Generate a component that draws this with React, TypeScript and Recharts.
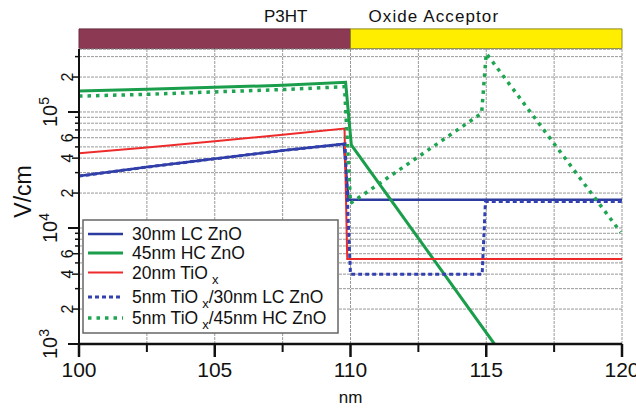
import React from "react";
import {
  LineChart,
  Line,
  XAxis,
  YAxis,
  CartesianGrid,
  ReferenceArea,
  ReferenceLine,
  Label,
} from "recharts";

// position (nm) and field (V/cm)
const lcZnOX = [100, 102.5, 105, 107.5, 109.75, 109.93, 120];
const lcZnOV = [28000, 33500, 39500, 46500, 53000, 17500, 17500];

const hcZnOX = [100, 102.5, 105, 107.5, 109.82, 110.03, 115.3];
const hcZnOV = [152000, 157000, 163000, 170000, 180000, 52000, 1000];

const tioxX = [100, 102.5, 105, 107.5, 109.78, 109.88, 120];
const tioxV = [44000, 49500, 56000, 63500, 72000, 5400, 5400];

const tioxLcX = [100, 102.5, 105, 107.5, 109.8, 110, 114.85, 114.97, 120];
const tioxLcV = [28000, 33500, 39500, 46500, 53000, 4000, 4000, 16900, 16900];

const tioxHcX = [100, 102.5, 105, 107.5, 109.78, 110, 114.83, 115, 119.95];
const tioxHcV = [137000, 142000, 149000, 156000, 165000, 16300, 97500, 320000, 9200];

const xTicks = [100, 102.5, 105, 107.5, 110, 112.5, 115, 117.5, 120];
const xLabeled = [100, 105, 110, 115, 120];
const yDecades = [1000, 10000, 100000];
const yMantissas = [1, 2, 3, 4, 5, 6, 7, 8, 9];
const yLabeledMantissas = [2, 4, 6];
const yTop = 349000;

const regionNames = ["P3HT", "Oxide Acceptor"];
const regionX = [100, 110, 120];

const yTicks = yDecades
  .flatMap((d) => yMantissas.map((m) => m * d))
  .filter((v) => v <= yTop);

const zip = (xs: number[], vs: number[]) => xs.map((x, i) => ({ x, v: vs[i] }));

const FONT = "'Liberation Sans', Arial, Helvetica, sans-serif";

const series = [
  { key: "lc", data: zip(lcZnOX, lcZnOV), color: "#2c3b9e", width: 2.5, dash: undefined, label: ["30nm LC ZnO"] },
  { key: "hc", data: zip(hcZnOX, hcZnOV), color: "#1a9e4b", width: 3, dash: undefined, label: ["45nm HC ZnO"] },
  { key: "tiox", data: zip(tioxX, tioxV), color: "#ee2b2b", width: 2, dash: undefined, label: ["20nm TiO", "x", ""] },
  { key: "tioxLc", data: zip(tioxLcX, tioxLcV), color: "#3340b0", width: 3, dash: "4 3", label: ["5nm TiO", "x", "/30nm LC ZnO"] },
  { key: "tioxHc", data: zip(tioxHcX, tioxHcV), color: "#1fa552", width: 3.5, dash: "3.5 5", label: ["5nm TiO", "x", "/45nm HC ZnO"] },
];

function YTick({ x, y, payload }: any) {
  const v = payload.value;
  const exp = Math.floor(Math.log10(v) + 1e-9);
  const mant = Math.round(v / Math.pow(10, exp));
  const major = mant === 1;
  const labeled = yLabeledMantissas.includes(mant);
  const len = major ? 11 : labeled ? 7 : 4;
  return (
    <g>
      <line x1={x} x2={x - len} y1={y} y2={y} stroke="#111" strokeWidth={major ? 2 : 1.5} />
      {major && (
        <text
          x={x - 22}
          y={y}
          transform={`rotate(-90 ${x - 22} ${y})`}
          textAnchor="middle"
          fontSize={20}
          fontFamily={FONT}
          fill="#111"
        >
          10
          <tspan dy={-8} fontSize={14}>
            {exp}
          </tspan>
        </text>
      )}
      {labeled && (
        <text
          x={x - 6}
          y={y}
          transform={`rotate(-90 ${x - 6} ${y})`}
          textAnchor="middle"
          fontSize={16}
          fontFamily={FONT}
          fill="#111"
        >
          {mant}
        </text>
      )}
    </g>
  );
}

function XTick({ x, y, payload }: any) {
  const major = xLabeled.includes(payload.value);
  return (
    <g>
      <line x1={x} x2={x} y1={y} y2={y + (major ? 13 : 8)} stroke="#111" strokeWidth={major ? 2.5 : 2} />
      {major && (
        <text x={x} y={y + 33} textAnchor="middle" fontSize={21} fontFamily={FONT} fill="#111">
          {payload.value}
        </text>
      )}
    </g>
  );
}

function LegendBox() {
  const rows = [234, 253, 272.5, 297, 318];
  return (
    <svg width={636} height={411} style={{ position: "absolute", left: 0, top: 0, pointerEvents: "none" }}>
      <rect x={83} y={220} width={255} height={113} fill="#fff" stroke="#666" strokeWidth={1.5} />
      {series.map((s, i) => (
        <g key={s.key}>
          <line x1={88} x2={123} y1={rows[i]} y2={rows[i]} stroke={s.color} strokeWidth={s.width} strokeDasharray={s.dash} />
          <text x={132} y={rows[i] + 6} fontSize={17.5} fontFamily={FONT} fill="#111">
            {s.label[0]}
            {s.label.length > 1 && (
              <>
                <tspan dx={4} dy={5} fontSize={13}>
                  {s.label[1]}
                </tspan>
                <tspan dy={-5}>{s.label[2]}</tspan>
              </>
            )}
          </text>
        </g>
      ))}
    </svg>
  );
}

export default function App() {
  return (
    <div style={{ position: "absolute", left: 0, top: 0, width: 636, height: 411, background: "#fff" }}>
      <LineChart width={636} height={411} margin={{ top: 49, right: 14, bottom: 0, left: 0 }}>
        <CartesianGrid stroke="#999" strokeDasharray="3 1" strokeWidth={1} />
        <XAxis
          type="number"
          dataKey="x"
          domain={[100, 120]}
          ticks={xTicks}
          interval={0}
          allowDataOverflow
          height={67}
          tickSize={0}
          tickMargin={0}
          tickLine={false}
          tick={<XTick />}
          axisLine={{ stroke: "#111", strokeWidth: 2.5 }}
        >
          <Label
            value="nm"
            position="insideBottom"
            offset={8}
            style={{ fontSize: 17, fontFamily: FONT, fill: "#111" }}
          />
        </XAxis>
        <YAxis
          type="number"
          scale="log"
          domain={[1000, yTop]}
          ticks={yTicks}
          interval={0}
          allowDataOverflow
          width={79}
          tickSize={0}
          tickMargin={0}
          tickLine={false}
          tick={<YTick />}
          axisLine={{ stroke: "#111", strokeWidth: 2 }}
        >
          <Label
            content={({ viewBox }: any) => {
              const cx = viewBox.x + 23;
              const cy = viewBox.y + viewBox.height / 2 - 5;
              return (
                <text
                  x={cx}
                  y={cy}
                  transform={`rotate(-90 ${cx} ${cy})`}
                  textAnchor="middle"
                  dominantBaseline="central"
                  fontSize={23}
                  fontFamily={FONT}
                  fill="#111"
                >
                  V/cm
                </text>
              );
            }}
          />
        </YAxis>
        <ReferenceLine y={yTop} stroke="#999" strokeDasharray="3 1" ifOverflow="visible" />
        <ReferenceArea
          x1={regionX[0]}
          x2={regionX[1]}
          y1={352000}
          y2={520000}
          ifOverflow="visible"
          fill="#8c3a54"
          fillOpacity={1}
          stroke="#6b2a3f"
          strokeWidth={1}
          label={({ viewBox }: any) => (
            <text
              x={viewBox.x + viewBox.width - 43}
              y={viewBox.y - 7}
              textAnchor="end"
              fontSize={17}
              fontFamily={FONT}
              fill="#111"
            >
              {regionNames[0]}
            </text>
          )}
        />
        <ReferenceArea
          x1={regionX[1]}
          x2={regionX[2]}
          y1={352000}
          y2={520000}
          ifOverflow="visible"
          fill="#ffee00"
          fillOpacity={1}
          stroke="#8f8a1a"
          strokeWidth={1}
          label={({ viewBox }: any) => (
            <text
              x={viewBox.x + 18}
              y={viewBox.y - 7}
              textAnchor="start"
              fontSize={17}
              letterSpacing={1.1}
              fontFamily={FONT}
              fill="#111"
            >
              {regionNames[1]}
            </text>
          )}
        />
        {series.map((s) => (
          <Line
            key={s.key}
            data={s.data}
            dataKey="v"
            type="linear"
            stroke={s.color}
            strokeWidth={s.width}
            strokeDasharray={s.dash}
            dot={false}
            activeDot={false}
            isAnimationActive={false}
          />
        ))}
      </LineChart>
      <LegendBox />
    </div>
  );
}
